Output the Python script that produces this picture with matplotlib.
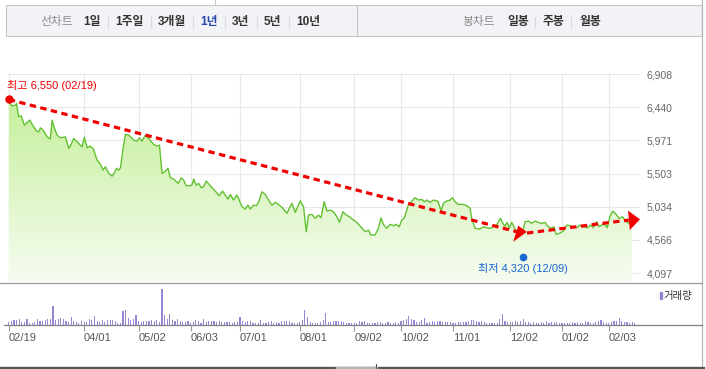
import numpy as np
import matplotlib.pyplot as plt
from matplotlib.colors import LinearSegmentedColormap
from matplotlib.patches import Rectangle

plt.rcParams['font.family'] = ['Liberation Sans', 'Noto Sans CJK KR']

W, H = 706, 369

# closing price (trading-day index, won)
days = [0, 1.3, 2.6, 3.0, 3.8, 4.8, 6.0, 7.1, 8.1, 9.0, 10.7, 11.5, 12.2, 13.2, 14.8,
        16.0, 16.7, 17.6, 18.6, 19.9, 21.8, 23.1, 24.0, 25.0, 26.9, 28.2, 29.1, 30.2,
        31.2, 32.5, 34.0, 35.3, 36.3, 37.2, 38.5, 39.8, 40.7, 41.4, 42.3, 43.0, 44.0,
        44.9, 46.2, 48.1, 49.4, 50.3, 51.3, 52.6, 53.8, 55.8, 57.1, 58.0, 59.0, 60.0,
        61.3, 62.2, 63.5, 65.2, 66.4, 67.3, 68.3, 69.9, 70.5, 71.2, 72.1, 73.1, 74.1,
        75.0, 76.0, 77.6, 79.5, 81.0, 82.3, 83.3, 84.4, 85.3, 86.5, 87.8, 88.7, 89.8,
        91.0, 92.1, 93.0, 94.2, 95.3, 96.2, 97.5, 98.7, 100.0, 101.3, 102.6, 103.8,
        105.5, 107.1, 108.1, 109.0, 110.3, 112.2, 113.5, 114.5, 115.4, 116.7, 118.0,
        119.2, 120.2, 121.4, 122.5, 123.7, 125.0, 126.3, 127.3, 128.6, 129.9, 131.2,
        132.7, 134.0, 135.5, 137.2, 138.5, 139.4, 141.0, 142.3, 143.3, 144.2, 145.5,
        146.8, 148.1, 149.0, 150.3, 151.3, 152.3, 153.8, 155.2, 156.4, 157.7, 159.0,
        160.0, 160.9, 162.2, 163.5, 165.2, 166.4, 167.3, 168.6, 169.9, 170.8, 171.8,
        173.1, 175.0, 176.3, 177.6, 178.2, 179.5, 181.4, 182.7, 184.0, 185.3, 186.5,
        187.8, 189.3, 190.2, 191.0, 191.9, 192.7, 193.6, 194.5, 195.5, 196.5, 197.8,
        198.7, 200.0, 201.3, 202.6, 203.8, 205.2, 206.4, 207.7, 209.0, 209.9, 210.7,
        212.0, 213.5, 214.8, 216.0, 217.3, 218.6, 219.9, 221.2, 222.7, 224.0, 225.0,
        226.3, 227.3, 228.2, 229.5, 230.4, 231.4, 232.5, 233.8, 235.0, 236.3, 237.6,
        238.8, 239.8]
close = [6517, 6460, 6470, 6494, 6305, 6319, 6188, 6226, 6258, 6197, 6103, 6093, 6149,
         6117, 6022, 5990, 6258, 6141, 6046, 6008, 6022, 5858, 5915, 6000, 5929, 5881,
         6014, 5867, 5891, 5858, 5693, 5632, 5552, 5598, 5505, 5467, 5519, 5576, 5552,
         5584, 5858, 6056, 6046, 5976, 5962, 6008, 5962, 6046, 6000, 5915, 5891, 5905,
         5505, 5528, 5576, 5443, 5425, 5364, 5443, 5411, 5330, 5330, 5340, 5425, 5340,
         5364, 5302, 5316, 5396, 5330, 5255, 5189, 5255, 5199, 5142, 5209, 5128, 5199,
         5128, 5033, 5001, 5057, 5001, 5057, 5048, 5104, 5245, 5209, 5128, 5057, 5096,
         5067, 5011, 4940, 5019, 5082, 4954, 5118, 5033, 4680, 4916, 4926, 4870, 4916,
         4878, 5104, 4973, 4987, 4963, 4892, 4813, 4963, 4916, 4892, 4846, 4813, 4751,
         4680, 4704, 4634, 4634, 4728, 4878, 4785, 4728, 4785, 4765, 4785, 4751, 4846,
         4878, 5057, 5114, 5161, 5128, 5138, 5104, 5128, 5096, 5128, 5114, 4973, 5082,
         5114, 5128, 5161, 5104, 5067, 5067, 5048, 5011, 4870, 4728, 4719, 4751, 4737,
         4728, 4751, 4775, 4870, 4799, 4760, 4813, 4728, 4813, 4751, 4680, 4644, 4658,
         4822, 4831, 4799, 4831, 4813, 4799, 4813, 4751, 4728, 4751, 4644, 4658, 4690,
         4775, 4765, 4751, 4737, 4775, 4751, 4737, 4775, 4737, 4822, 4751, 4775, 4785,
         4737, 4892, 4973, 4926, 4870, 4892, 4822, 4799, 4775]

# daily volume (천주), one bar per trading day
vol = [27, 43, 50, 50, 57, 33, 30, 57, 23, 23, 33, 60, 40, 40, 50, 57, 63,
       190,
       50, 60, 70, 57, 43, 33, 80, 40, 30, 23, 43, 33, 27, 57, 50,
       90,
       40, 33, 50, 33, 50, 50, 50, 37, 23, 23,
       140, 150, 70, 50, 57, 100,
       43, 30, 43, 37, 37, 50, 37, 50, 33,
       360, 100, 60, 110,
       50, 40, 57, 40, 33, 33, 43, 23, 33, 50, 37, 23, 60, 33, 40, 37, 37, 30, 43,
       27, 30, 33, 27, 23, 27, 33,
       80,
       40, 27, 37, 40, 17, 20, 23, 50, 23, 23, 30, 37, 23, 30, 23, 37, 43, 37, 43,
       23, 23, 23, 33, 50,
       150, 80,
       33, 23, 23, 23, 27, 50,
       120,
       33, 30, 37, 40, 40, 40, 33, 23, 23, 23, 23, 17,
       43, 30, 37, 20, 17, 20, 20, 30, 33, 23, 23, 27, 23, 23, 30, 23,
       40, 50, 60, 93, 60, 50, 33, 33, 50, 67,
       23, 33, 43, 33, 43, 43, 27, 33, 33, 27, 23, 17, 27, 33, 33, 27, 43, 50, 50,
       43, 27, 43, 33, 23, 20, 23, 23, 23, 60,
       110, 43, 30, 33, 33, 37, 27, 37, 63,
       33, 30, 23, 33, 23, 23, 30, 23, 37, 23, 30, 27, 33, 23, 23, 17, 23, 23, 27,
       23, 27, 20, 23, 37, 27, 23, 23, 30, 43, 50, 33, 23, 23, 27, 43, 37,
       67, 37, 30, 33, 23, 30, 23]

tick_days = [0, 29, 50, 70, 89, 112, 133, 151, 171, 193, 213, 231]
tick_labels = ['02/19', '04/01', '05/02', '06/03', '07/01', '08/01', '09/02',
               '10/02', '11/01', '12/02', '01/02', '02/03']
price_ticks = [4097, 4566, 5034, 5503, 5971, 6440, 6908]

hi_day, hi_price, hi_date = 0, 6550, '02/19'
lo_day, lo_price, lo_date = 198, 4320, '12/09'

# hand-drawn trend arrows: shaft start/end, head base/tip
trend_down = [(0, 6550), (196, 4676)]
trend_down_head = [(197.9, 4728), (194.2, 4539)]
trend_up = [(199.5, 4662), (238.7, 4846)]
trend_up_head = [(238.8, 4842), (243.0, 4856)]

line_tabs = [('1일', 83), ('1주일', 115), ('3개월', 158), ('1년', 200),
             ('3년', 232), ('5년', 264), ('10년', 296)]
candle_tabs = [('일봉', 507), ('주봉', 543), ('월봉', 579)]

RED = '#f20000'
BLUE = '#1a66d4'
GREEN = '#62c232'
PURPLE = '#9a84d4'

fig = plt.figure(figsize=(W / 100, H / 100), dpi=100)

# page furniture in pixel coordinates
bg = fig.add_axes([0, 0, 1, 1])
bg.set_xlim(0, W)
bg.set_ylim(H, 0)
bg.axis('off')

bg.add_patch(Rectangle((6, 5), 696, 31, fc='#f2f3f6', ec='#c6c6c6', lw=0.8))
bg.plot([357, 357], [5, 36], color='#c6c6c6', lw=0.8)
bg.plot([215, 215], [0, 5], color='#c6c6c6', lw=0.8)
bg.text(40, 21.5, '선차트', color='#8a8a8a', fontsize=8.5, va='center')
for i, (lab, x) in enumerate(line_tabs):
    bg.text(x, 21.5, lab, color='#2747b0' if lab == '1년' else '#333333',
            fontsize=8.5, fontweight='bold', va='center')
    if i > 0:
        bg.plot([x - 7, x - 7], [17, 27], color='#d8d8d8', lw=0.8)
bg.text(462, 21.5, '봉차트', color='#8a8a8a', fontsize=8.5, va='center')
for i, (lab, x) in enumerate(candle_tabs):
    bg.text(x, 21.5, lab, color='#333333', fontsize=8.5, fontweight='bold', va='center')
    if i > 0:
        bg.plot([x - 8, x - 8], [17, 27], color='#d8d8d8', lw=0.8)

bg.plot([702, 702], [0, 369], color='#b8b8b8', lw=0.9)
bg.plot([0, 702], [282.5, 282.5], color='#9c9c9c', lw=0.9)
bg.plot([4, 702], [325, 325], color='#7f7f7f', lw=0.9)
bg.plot([0, 703], [367.5, 367.5], color='#555555', lw=2.4)
bg.plot([337, 376], [367.5, 367.5], color='#b5b5b5', lw=2.4)
bg.plot([376, 376], [364, 369], color='#555555', lw=0.8)
bg.add_patch(Rectangle((659.5, 292), 2.3, 6.5, color=PURPLE))
bg.text(663.5, 295.5, '거래량', fontsize=7.5, color='#333333', va='center')

x_lo, x_hi = -0.3, 243.0
y_lo, y_hi = 3970, 6910

# price panel
ax = fig.add_axes([8 / W, 1 - 282 / H, 632 / W, 208 / H])
ax.set_facecolor('none')
fill = ax.fill_between(days, close, y_lo, color='none', lw=0)
cmap = LinearSegmentedColormap.from_list('g', ['#f6fcf1', '#bfed90'])
grad = ax.imshow(np.linspace(0, 1, 256).reshape(-1, 1), cmap=cmap, origin='lower',
                 extent=[x_lo, x_hi, y_lo, y_hi], aspect='auto', zorder=1)
grad.set_clip_path(fill.get_paths()[0], transform=ax.transData)
ax.plot(days, close, color=GREEN, lw=1.0, zorder=3)

ax.set_xlim(x_lo, x_hi)
ax.set_ylim(y_lo, y_hi)
ax.set_xticks(tick_days)
ax.set_xticklabels([])
ax.yaxis.tick_right()
ax.set_yticks(price_ticks, labels=[f'{v:,}' for v in price_ticks])
ax.tick_params(axis='both', length=0)
ax.tick_params(axis='y', pad=5, labelsize=7.5, labelcolor='#666666')
ax.grid(True, color='#e8e8e8', lw=0.8, zorder=0)
ax.set_axisbelow(True)
for s in ax.spines.values():
    s.set_visible(False)

dash = dict(color=RED, lw=2.3, dashes=(2.0, 1.4), zorder=4, solid_capstyle='butt')
ax.plot(*zip(*trend_down), **dash)
ax.plot(*zip(*trend_up), **dash)
ax.annotate('', xy=trend_down_head[1], xytext=trend_down_head[0], annotation_clip=False,
            arrowprops=dict(arrowstyle='-|>,head_length=11.5,head_width=3.8',
                            mutation_scale=1, lw=0, fc=RED, ec='none',
                            shrinkA=0, shrinkB=0, clip_on=False), zorder=5)
ax.annotate('', xy=trend_up_head[1], xytext=trend_up_head[0], annotation_clip=False,
            arrowprops=dict(arrowstyle='-|>,head_length=8,head_width=7',
                            mutation_scale=1, lw=0, fc=RED, ec='none',
                            shrinkA=0, shrinkB=0, clip_on=False), zorder=5)

ax.plot(hi_day, hi_price, 'o', color=RED, ms=5, zorder=6, clip_on=False)
ax.annotate(f'최고 {hi_price:,} ({hi_date})', xy=(hi_day, hi_price), xytext=(-1.5, 10),
            textcoords='offset points', color=RED, fontsize=8, va='center', ha='left',
            annotation_clip=False)
ax.plot(lo_day, lo_price, 'o', color=BLUE, ms=4.5, zorder=6)
ax.annotate(f'최저 {lo_price:,} ({lo_date})', xy=(lo_day, lo_price), xytext=(0, -8),
            textcoords='offset points', color=BLUE, fontsize=8, va='center', ha='center')

# volume panel
vax = fig.add_axes([8 / W, 1 - 325 / H, 632 / W, 42 / H])
vax.set_facecolor('none')
vax.bar(np.arange(len(vol)), vol, width=0.45, color=PURPLE)
vax.set_xlim(x_lo, x_hi)
vax.set_ylim(0, 420)
vax.set_yticks([])
vax.set_xticks(tick_days, labels=tick_labels)
vax.tick_params(axis='x', length=4, width=0.8, color='#999999', pad=1.8,
                labelsize=8, labelcolor='#555555')
for lab in vax.get_xticklabels():
    lab.set_ha('left')
for s in vax.spines.values():
    s.set_visible(False)

fig.savefig('out.png', dpi=100)
